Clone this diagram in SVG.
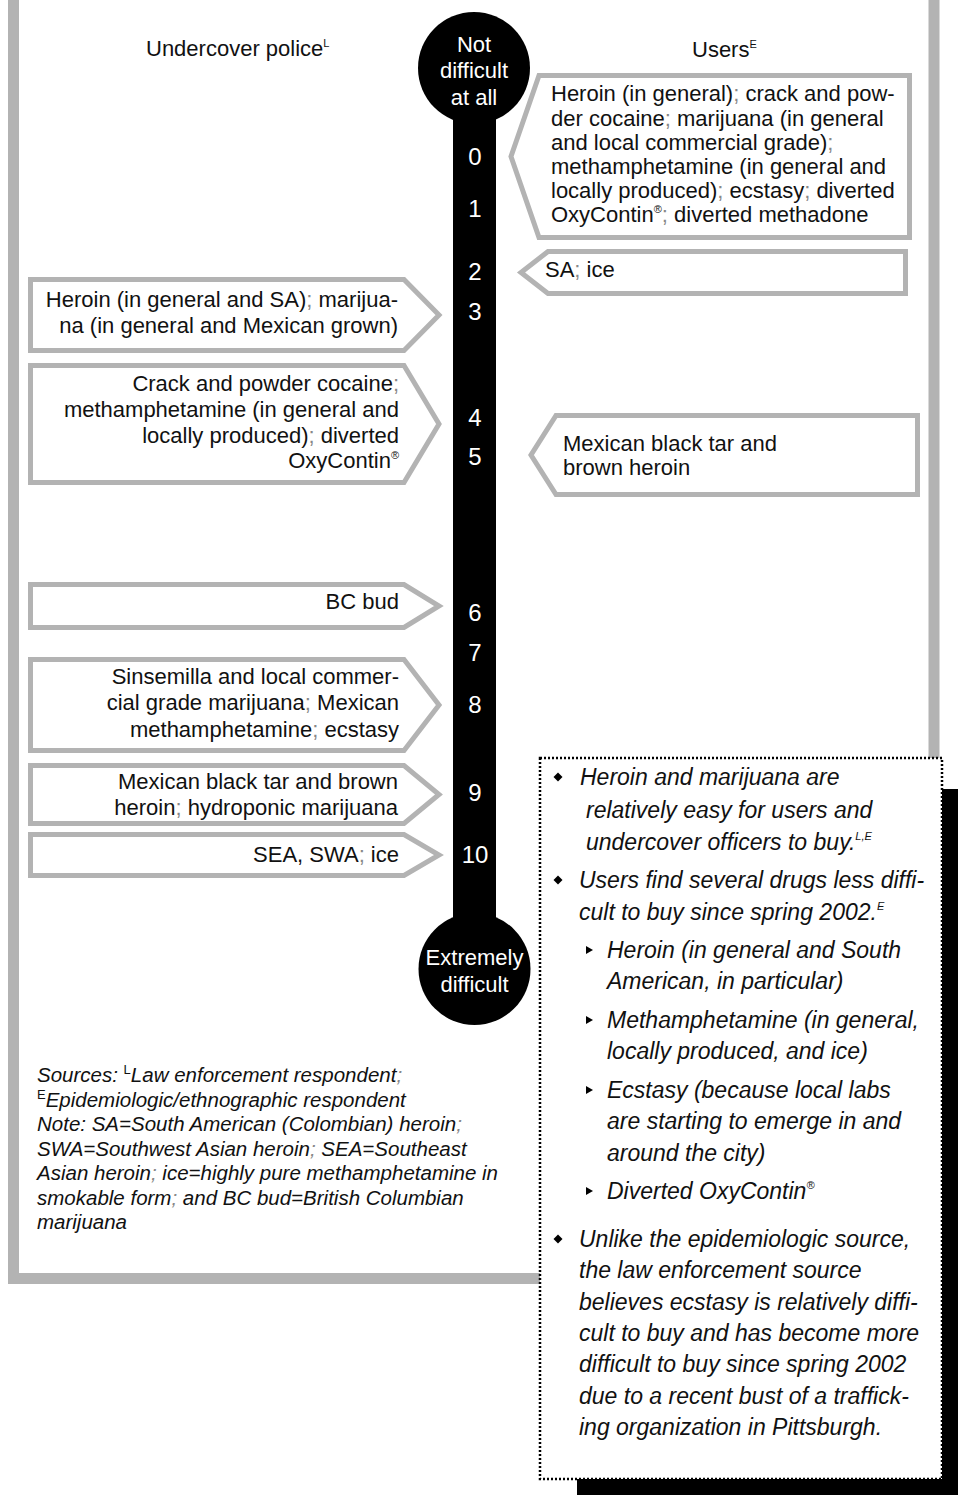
<svg xmlns="http://www.w3.org/2000/svg" width="958" height="1495" viewBox="0 0 958 1495">
<style>
.frame{fill:none;stroke:#b3b3b3;stroke-width:11}
.box{fill:#fff;stroke:#b3b3b3;stroke-width:5;stroke-linejoin:miter;stroke-miterlimit:10}
.t{font-family:"Liberation Sans",Arial,sans-serif;font-size:22px;fill:#111}
.r{text-anchor:end}
.wt{font-family:"Liberation Sans",Arial,sans-serif;fill:#fff;text-anchor:middle}
.lab{font-size:22px}
.num{font-size:24px}
.it{font-family:"Liberation Sans",Arial,sans-serif;font-style:italic;font-size:23px;fill:#111}
.src{font-family:"Liberation Sans",Arial,sans-serif;font-style:italic;font-size:20.5px;fill:#111}
.sup{font-size:11px}
.semi{fill:#888}
.dia{fill:#000}
</style>
<rect width="958" height="1495" fill="#fff"/>
<g id="frame"><rect class="frame" x="13.5" y="-20" width="920.5" height="1298.5"/></g>
<g id="connectors"/>
<g id="headers">
<text class="t" x="146" y="56">Undercover police<tspan class="sup" dy="-9">L</tspan></text>
<text class="t" x="692" y="57">Users<tspan class="sup" dy="-9">E</tspan></text>
</g>
<g id="scale">
<circle cx="474" cy="68" r="56" fill="#000"/>
<rect x="453" y="110" width="43" height="815" fill="#000"/>
<circle cx="474.5" cy="969" r="56" fill="#000"/>
<text class="wt lab" x="474" y="52">Not</text>
<text class="wt lab" x="474" y="78">difficult</text>
<text class="wt lab" x="474" y="105">at all</text>
<text class="wt num" x="475" y="165">0</text>
<text class="wt num" x="475" y="217">1</text>
<text class="wt num" x="475" y="280">2</text>
<text class="wt num" x="475" y="320">3</text>
<text class="wt num" x="475" y="426">4</text>
<text class="wt num" x="475" y="465">5</text>
<text class="wt num" x="475" y="621">6</text>
<text class="wt num" x="475" y="661">7</text>
<text class="wt num" x="475" y="713">8</text>
<text class="wt num" x="475" y="801">9</text>
<text class="wt num" x="475" y="863">10</text>
<text class="wt lab" x="474.5" y="965">Extremely</text>
<text class="wt lab" x="474.5" y="992">difficult</text>
</g>
<g id="police-3">
<polygon class="box" points="30.5,279.5 404,279.5 439,315 404,350.5 30.5,350.5"/>
<text class="t r" x="398" y="307">Heroin (in general and SA)<tspan class="semi">;</tspan> marijua-</text>
<text class="t r" x="398" y="333">na (in general and Mexican grown)</text>
</g>
<g id="police-4-5">
<polygon class="box" points="30.5,365.5 404,365.5 439,424 404,482.5 30.5,482.5"/>
<text class="t r" x="399" y="391">Crack and powder cocaine<tspan class="semi">;</tspan></text>
<text class="t r" x="399" y="417">methamphetamine (in general and</text>
<text class="t r" x="399" y="443">locally produced)<tspan class="semi">;</tspan> diverted</text>
<text class="t r" x="399" y="468">OxyContin<tspan class="sup" dy="-9">®</tspan></text>
</g>
<g id="police-6">
<polygon class="box" points="30.5,584.5 404,584.5 439,606 404,627.5 30.5,627.5"/>
<text class="t r" x="399" y="609">BC bud</text>
</g>
<g id="police-8">
<polygon class="box" points="30.5,659.5 404,659.5 439,705 404,750.5 30.5,750.5"/>
<text class="t r" x="399" y="684">Sinsemilla and local commer-</text>
<text class="t r" x="399" y="710">cial grade marijuana<tspan class="semi">;</tspan> Mexican</text>
<text class="t r" x="399" y="737">methamphetamine<tspan class="semi">;</tspan> ecstasy</text>
</g>
<g id="police-9">
<polygon class="box" points="30.5,765.5 404,765.5 439,794.5 404,823.5 30.5,823.5"/>
<text class="t r" x="398" y="789">Mexican black tar and brown</text>
<text class="t r" x="398" y="815">heroin<tspan class="semi">;</tspan> hydroponic marijuana</text>
</g>
<g id="police-10">
<polygon class="box" points="30.5,834.5 404,834.5 439,855 404,875.5 30.5,875.5"/>
<text class="t r" x="399" y="862">SEA, SWA<tspan class="semi">;</tspan> ice</text>
</g>
<g id="users-0-1">
<polygon class="box" points="539,75.5 909.5,75.5 909.5,237.5 539,237.5 511,156.5"/>
<text class="t" x="551" y="101">Heroin (in general)<tspan class="semi">;</tspan> crack and pow-</text>
<text class="t" x="551" y="126">der cocaine<tspan class="semi">;</tspan> marijuana (in general</text>
<text class="t" x="551" y="150">and local commercial grade)<tspan class="semi">;</tspan></text>
<text class="t" x="551" y="174">methamphetamine (in general and</text>
<text class="t" x="551" y="198">locally produced)<tspan class="semi">;</tspan> ecstasy<tspan class="semi">;</tspan> diverted</text>
<text class="t" x="551" y="222">OxyContin<tspan class="sup" dy="-9">®</tspan><tspan class="semi" dy="9">;</tspan> diverted methadone</text>
</g>
<g id="users-2">
<polygon class="box" points="548,251.5 905.5,251.5 905.5,293.5 548,293.5 521,272.5"/>
<text class="t" x="545" y="277">SA<tspan class="semi">;</tspan> ice</text>
</g>
<g id="users-4-5">
<polygon class="box" points="556,415.5 917.5,415.5 917.5,494.5 556,494.5 531,455"/>
<text class="t" x="563" y="451">Mexican black tar and</text>
<text class="t" x="563" y="475">brown heroin</text>
</g>
<g id="notes">
<rect x="577" y="789" width="400" height="730" fill="#000"/>
<rect x="540" y="758" width="402" height="721" fill="#fff" stroke="#000" stroke-width="2.5" stroke-dasharray="2 2"/>
<path class="dia" d="M558,772.5 l4.5,4.5 -4.5,4.5 -4.5,-4.5z"/>
<text class="it" x="580" y="785">Heroin and marijuana are</text>
<text class="it" x="586" y="818">relatively easy for users and</text>
<text class="it" x="586" y="850">undercover officers to buy.<tspan class="sup" dy="-10">L,E</tspan></text>
<path class="dia" d="M558,875.5 l4.5,4.5 -4.5,4.5 -4.5,-4.5z"/>
<text class="it" x="579" y="888">Users find several drugs less diffi-</text>
<text class="it" x="579" y="920">cult to buy since spring 2002.<tspan class="sup" dy="-10">E</tspan></text>
<path class="dia" d="M586,946 l7,4 -7,4z"/>
<text class="it" x="607" y="958">Heroin (in general and South</text>
<text class="it" x="607" y="989">American, in particular)</text>
<path class="dia" d="M586,1016 l7,4 -7,4z"/>
<text class="it" x="607" y="1028">Methamphetamine (in general,</text>
<text class="it" x="607" y="1059">locally produced, and ice)</text>
<path class="dia" d="M586,1086 l7,4 -7,4z"/>
<text class="it" x="607" y="1098">Ecstasy (because local labs</text>
<text class="it" x="607" y="1129">are starting to emerge in and</text>
<text class="it" x="607" y="1161">around the city)</text>
<path class="dia" d="M586,1187 l7,4 -7,4z"/>
<text class="it" x="607" y="1199">Diverted OxyContin<tspan class="sup" dy="-10">®</tspan></text>
<path class="dia" d="M558,1234.5 l4.5,4.5 -4.5,4.5 -4.5,-4.5z"/>
<text class="it" x="579" y="1247">Unlike the epidemiologic source,</text>
<text class="it" x="579" y="1278">the law enforcement source</text>
<text class="it" x="579" y="1310">believes ecstasy is relatively diffi-</text>
<text class="it" x="579" y="1341">cult to buy and has become more</text>
<text class="it" x="579" y="1372">difficult to buy since spring 2002</text>
<text class="it" x="579" y="1404">due to a recent bust of a traffick-</text>
<text class="it" x="579" y="1435">ing organization in Pittsburgh.</text>
</g>
<g id="sources">
<text class="src" x="37" y="1082">Sources: <tspan font-style="normal" font-size="13" dy="-8">L</tspan><tspan dy="8">Law enforcement respondent</tspan><tspan class="semi">;</tspan></text>
<text class="src" x="37" y="1107"><tspan font-style="normal" font-size="13" dy="-8">E</tspan><tspan dy="8">Epidemiologic/ethnographic respondent</tspan></text>
<text class="src" x="37" y="1131">Note: SA=South American (Colombian) heroin<tspan class="semi">;</tspan></text>
<text class="src" x="37" y="1156">SWA=Southwest Asian heroin<tspan class="semi">;</tspan> SEA=Southeast</text>
<text class="src" x="37" y="1180">Asian heroin<tspan class="semi">;</tspan> ice=highly pure methamphetamine in</text>
<text class="src" x="37" y="1205">smokable form<tspan class="semi">;</tspan> and BC bud=British Columbian</text>
<text class="src" x="37" y="1229">marijuana</text>
</g>
</svg>
